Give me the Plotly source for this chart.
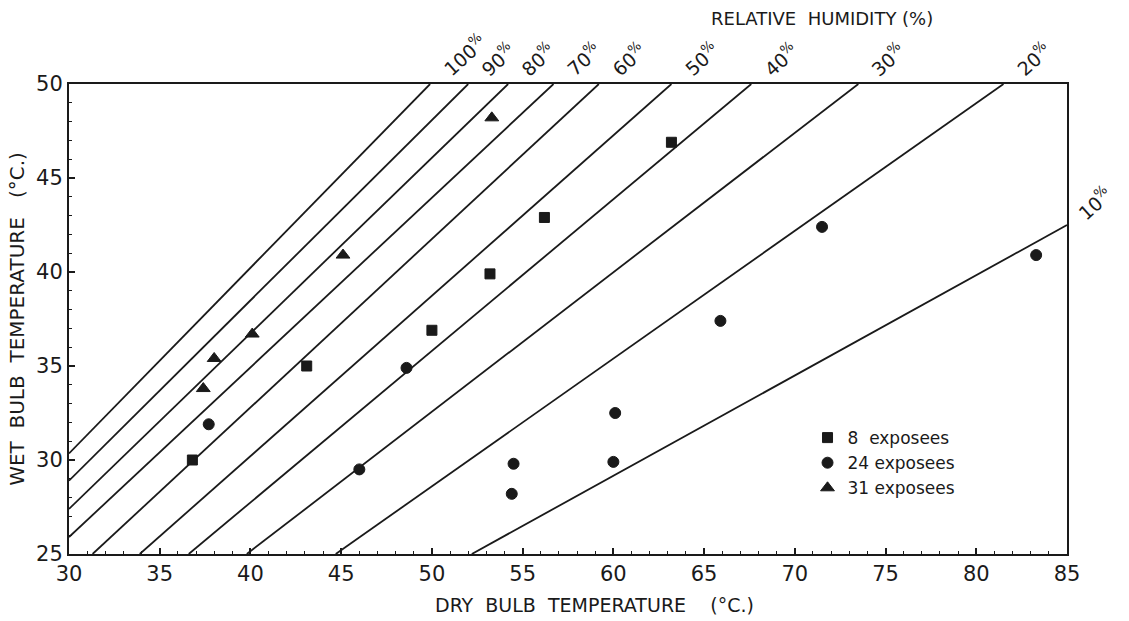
import plotly.graph_objects as go

# Relative humidity lines (straight segments as drawn)
rh_labels = ["100", "90", "80", "70", "60", "50", "40", "30", "20", "10"]
rh_x0 = [30.0, 30.0, 30.0, 30.0, 31.3, 33.9, 36.6, 39.8, 44.7, 52.2]
rh_y0 = [30.35, 28.9, 27.4, 25.9, 25.0, 25.0, 25.0, 25.0, 25.0, 25.0]
rh_x1 = [49.9, 52.0, 54.2, 56.7, 59.2, 63.2, 67.6, 73.5, 81.5, 85.0]
rh_y1 = [50.0, 50.0, 50.0, 50.0, 50.0, 50.0, 50.0, 50.0, 50.0, 42.5]

# Exposure groups
sq_x = [36.8, 43.1, 50.0, 53.2, 56.2, 63.2]
sq_y = [30.0, 35.0, 36.9, 39.9, 42.9, 46.9]

ci_x = [37.7, 46.0, 48.6, 54.5, 54.4, 60.1, 60.0, 65.9, 71.5, 83.3]
ci_y = [31.9, 29.5, 34.9, 29.8, 28.2, 32.5, 29.9, 37.4, 42.4, 40.9]

tr_x = [37.4, 38.0, 40.1, 45.1, 53.3]
tr_y = [33.8, 35.4, 36.7, 40.9, 48.2]

x_ticks = [30, 35, 40, 45, 50, 55, 60, 65, 70, 75, 80, 85]
y_ticks = [25, 30, 35, 40, 45, 50]

INK = "#1a1a1a"
FONT = "DejaVu Sans"

fig = go.Figure()

for lab, a, b, c, d in zip(rh_labels, rh_x0, rh_y0, rh_x1, rh_y1):
    fig.add_trace(go.Scatter(x=[a, c], y=[b, d], mode="lines",
                             line=dict(color=INK, width=1.8),
                             showlegend=False, hoverinfo="skip"))

fig.add_trace(go.Scatter(x=sq_x, y=sq_y, mode="markers", name="8  exposees",
                         marker=dict(symbol="square", size=10, color=INK,
                                     line=dict(color=INK, width=1))))
fig.add_trace(go.Scatter(x=ci_x, y=ci_y, mode="markers", name="24 exposees",
                         marker=dict(symbol="circle", size=11, color=INK,
                                     line=dict(color=INK, width=1))))
fig.add_trace(go.Scatter(x=tr_x, y=tr_y, mode="markers", name="31 exposees",
                         marker=dict(symbol="triangle-up", size=12, color=INK,
                                     line=dict(color=INK, width=1))))

# RH labels at the line ends
for lab, c, d in zip(rh_labels, rh_x1, rh_y1):
    top = d >= 50
    fig.add_annotation(x=c, y=d, xref="x", yref="y",
                       text=lab + "<sup>%</sup>",
                       showarrow=False, textangle=-42,
                       xanchor="left", yanchor="bottom",
                       xshift=5 if top else 3, yshift=1 if top else -2,
                       font=dict(family=FONT, size=19, color=INK))

fig.add_annotation(x=0.755, y=1.14, xref="paper", yref="paper",
                   xanchor="center", yanchor="middle",
                   text="RELATIVE  HUMIDITY (%)", showarrow=False,
                   font=dict(family=FONT, size=18, color=INK))

# x-axis title placed as in the original drawing
fig.add_annotation(x=0.527, y=-0.108, xref="paper", yref="paper",
                   xanchor="center", yanchor="middle",
                   text="DRY  BULB  TEMPERATURE    (°C.)", showarrow=False,
                   font=dict(family=FONT, size=19, color=INK))

axis_common = dict(showline=True, linecolor=INK, linewidth=2, mirror=True,
                   showgrid=False, zeroline=False, ticks="inside",
                   ticklen=6, tickwidth=1.5, tickcolor=INK,
                   tickfont=dict(family=FONT, size=21, color=INK),
                   minor=dict(ticks="inside", dtick=1, ticklen=3,
                              tickwidth=1.2, tickcolor=INK))

fig.update_xaxes(range=[30, 85], tickvals=x_ticks, **axis_common)
fig.update_yaxes(range=[25, 50], tickvals=y_ticks,
                 title=dict(text="WET  BULB  TEMPERATURE   (°C.)",
                            font=dict(family=FONT, size=20, color=INK),
                            standoff=6),
                 **axis_common)

fig.update_layout(
    width=1129, height=621,
    margin=dict(l=69, r=62, t=84, b=67),
    paper_bgcolor="white", plot_bgcolor="white",
    font=dict(family=FONT, color=INK),
    legend=dict(x=0.74, y=0.285, xanchor="left", yanchor="top",
                bgcolor="rgba(0,0,0,0)", font=dict(family=FONT, size=17, color=INK),
                itemwidth=30, tracegroupgap=0),
)

fig.write_html("out.html")
